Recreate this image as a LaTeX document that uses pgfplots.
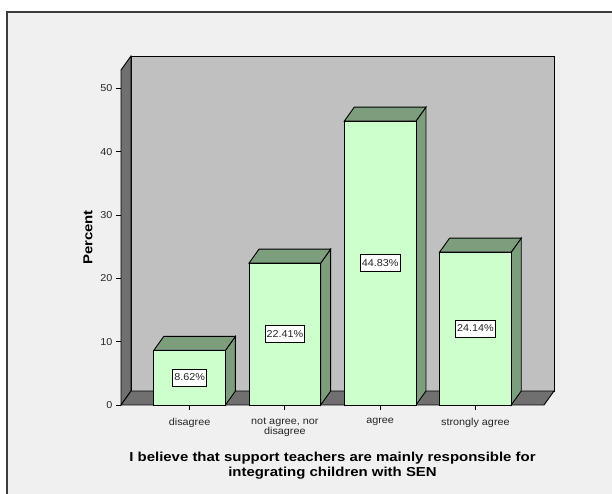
\documentclass[border=0pt]{standalone}
\usepackage{pgfplots}
\pgfplotsset{compat=1.18}
\usepackage{pgfplotstable}
\usepackage{fontspec}
\setmainfont{Liberation Sans}[FakeStretch=1.08]
\newfontfamily\headfont{Liberation Sans}[FakeStretch=1.15]

\definecolor{barfront}{RGB}{204,255,204}
\definecolor{barshade}{RGB}{125,158,125}
\definecolor{wallback}{RGB}{192,192,192}
\definecolor{walldark}{RGB}{112,112,112}
\definecolor{panelbg}{RGB}{240,240,240}
\definecolor{framecol}{RGB}{60,60,60}

% percentage of respondents per answer
\pgfplotstableread{
idx pct
0 8.62
1 22.41
2 44.83
3 24.14
}\responses

% geometry of the pseudo-3D box, in axis units
\def\xlo{-0.72}
\def\xhi{3.72}
\def\ytop{52.9}
\def\dx{0.105}
\def\dy{2.21}
\def\hw{0.376}
\pgfmathsetmacro\xlod{\xlo+\dx}
\pgfmathsetmacro\xhid{\xhi+\dx}
\pgfmathsetmacro\ytopd{\ytop+\dy}

\begin{document}
\begin{tikzpicture}
\path[use as bounding box, fill=white] (-121pt,-89pt) rectangle (491pt,405pt);
\fill[panelbg] (-114pt,-89pt) rectangle (491pt,393pt);
\draw[framecol, line width=1.5pt] (-114pt,-89pt) -- (-114pt,393pt) -- (491pt,393pt);
\begin{axis}[
  at={(0pt,0pt)}, anchor=south west,
  scale only axis, width=423pt, height=335pt,
  xmin=\xlo, xmax=\xhi, ymin=0, ymax=\ytop,
  clip=false,
  axis line style={draw=none},
  tick pos=left, tick align=outside, major tick length=5pt,
  tick style={black, line width=0.8pt},
  xtick={0,1,2,3},
  xticklabels={disagree, {not agree, nor\\disagree}, agree, strongly agree},
  ytick={0,10,...,50},
  xticklabel style={align=center, yshift=-5pt, font=\fontsize{10}{10}\selectfont, text=black!85},
  yticklabel style={font=\fontsize{10}{10}\selectfont, text=black!85},
  /pgf/number format/assume math mode=true,
  xlabel={I believe that support teachers are mainly responsible for\\integrating children with SEN},
  xlabel style={at={(axis description cs:0.5,-0.1806)}, anchor=center, align=center,
    font=\headfont\bfseries\fontsize{13}{15}\selectfont},
  ylabel={Percent},
  ylabel style={at={(axis description cs:-0.078,0.5)}, anchor=center,
    font=\headfont\bfseries\fontsize{13}{15}\selectfont},
]
% back wall, left wall and floor
\draw[fill=wallback, line width=0.9pt] (axis cs:\xlod,\dy) -- (axis cs:\xlod,\ytopd) -- (axis cs:\xhid,\ytopd) -- (axis cs:\xhid,\dy) -- cycle;
\draw[fill=walldark, line width=0.9pt] (axis cs:\xlo,0) -- (axis cs:\xlo,\ytop) -- (axis cs:\xlod,\ytopd) -- (axis cs:\xlod,\dy) -- cycle;
\draw[fill=walldark, line width=0.9pt] (axis cs:\xlo,0) -- (axis cs:\xhi,0) -- (axis cs:\xhid,\dy) -- (axis cs:\xlod,\dy) -- cycle;

% side and top faces of each bar
\pgfplotsinvokeforeach{0,1,2,3}{
  \pgfplotstablegetelem{#1}{pct}\of\responses
  \let\barv\pgfplotsretval
  \pgfmathsetmacro\xr{#1+\hw}
  \pgfmathsetmacro\xl{#1-\hw}
  \pgfmathsetmacro\xrd{\xr+\dx}
  \pgfmathsetmacro\xld{\xl+\dx}
  \pgfmathsetmacro\barvd{\barv+\dy}
  \addplot[fill=barshade, draw=black, line width=0.9pt] coordinates {(\xr,0) (\xr,\barv) (\xrd,\barvd) (\xrd,\dy)} -- cycle;
  \addplot[fill=barshade, draw=black, line width=0.9pt] coordinates {(\xl,\barv) (\xr,\barv) (\xrd,\barvd) (\xld,\barvd)} -- cycle;
}

% front faces
\addplot[ybar, bar width=0.752, fill=barfront, draw=black, line width=0.9pt]
  table[x=idx, y=pct] {\responses};

% value labels at half height
\addplot[draw=none, point meta=\thisrow{pct},
  nodes near coords={\pgfmathprintnumber[fixed, precision=2, fixed zerofill]{\pgfplotspointmeta}\%},
  every node near coord/.append style={anchor=center, fill=white, draw=black, line width=0.7pt,
    inner xsep=1.5pt, inner ysep=4pt, text height=7.5pt, text depth=1.5pt,
    font=\fontsize{10}{10}\selectfont, text=black!85}]
  table[x=idx, y expr=\thisrow{pct}/2] {\responses};
\end{axis}
\end{tikzpicture}
\end{document}
